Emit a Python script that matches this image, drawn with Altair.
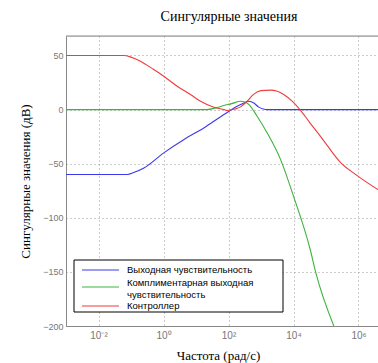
import altair as alt
import pandas as pd

# Data (frequency in rad/s, magnitude in dB)
series_names = ["Выходная чувствительность",
                "Комплиментарная выходная чувствительность",
                "Контроллер"]
legend_lines = [["Выходная чувствительность"],
                ["Комплиментарная выходная", "чувствительность"],
                ["Контроллер"]]
series_colors = ["#3a3aee", "#3cb43c", "#f03c3c"]

blue_freq = [1e-3, 0.076, 0.126, 0.25, 1.02, 4.17, 17.4, 72.4, 234, 427, 603, 832, 1259, 1549, 4e6]
blue_db = [-60, -60, -58, -54, -40, -27.8, -17, -4.6, 4.6, 7.7, 6, 2.5, 0.3, 0, 0]

green_freq = [1e-3, 21.9, 40, 71, 126, 234, 316, 427, 759, 1549, 3981, 1e4, 33113, 47863, 173780]
green_db = [0, 0, 1.5, 3.7, 5.5, 7.7, 7, 4.6, -6.2, -21.6, -46, -80, -130, -150, -200]

red_freq = [1e-3, 0.06, 0.1, 0.195, 0.5, 1.02, 2.63, 6.76, 13.8, 35.5, 72.4, 91.2, 158, 234, 355,
            589, 1000, 1950, 3162, 5012, 8913, 15849, 31623, 67608, 281838, 912011, 3981072]
red_db = [50, 50, 48.5, 44.7, 37, 30.8, 21.6, 13.9, 7.7, 2.2, 0, -0.8, 0.5, 2.5, 7,
          14, 17.5, 18, 17, 14, 8, 0, -12, -24.7, -49, -61, -74]

x_ticks = [1e-2, 1, 1e2, 1e4, 1e6]
y_ticks = [-200, -150, -100, -50, 0, 50]

rows = []
for name, fr, db in [(series_names[0], blue_freq, blue_db),
                     (series_names[1], green_freq, green_db),
                     (series_names[2], red_freq, red_db)]:
    for i, (f, d) in enumerate(zip(fr, db)):
        rows.append({"series": name, "freq": f, "db": d, "order": i})
df = pd.DataFrame(rows)

W, H = 312, 290

label_expr = ("datum.value == 0.01 ? '10⁻²' : datum.value == 1 ? '10⁰' : "
              "datum.value == 100 ? '10²' : datum.value == 10000 ? '10⁴' : '10⁶'")

lines = alt.Chart(df).mark_line(strokeWidth=1.1, interpolate="monotone", clip=True).encode(
    x=alt.X("freq:Q",
            scale=alt.Scale(type="log", domain=[1e-3, 10 ** 6.6], nice=False),
            axis=alt.Axis(values=x_ticks, labelExpr=label_expr, title="Частота (рад/с)",
                          grid=True, gridDash=[1, 3], gridColor="#999999",
                          ticks=False, labelPadding=4, labelFontSize=10,
                          labelColor="#777777", labelFont="Liberation Sans",
                          domainColor="#888888", titleFont="Liberation Serif",
                          titleFontSize=13, titleFontWeight="normal", titleColor="#000000",
                          titleX=152, titleY=29, titleBaseline="middle",
                          labelFlush=False, labelOverlap=False)),
    y=alt.Y("db:Q",
            scale=alt.Scale(domain=[-200, 68], nice=False, zero=False),
            axis=alt.Axis(values=y_ticks, title="Сингулярные значения (дВ)",
                          grid=True, gridDash=[1, 3], gridColor="#999999",
                          ticks=False, labelPadding=3, labelFontSize=9,
                          labelColor="#777777", labelFont="Liberation Sans",
                          domainColor="#888888", titleFont="Liberation Serif",
                          titleFontSize=13, titleFontWeight="normal", titleColor="#000000",
                          titleX=-41, titleY=145, titleBaseline="middle",
                          titleAngle=270, labelFlush=False)),
    color=alt.Color("series:N",
                    scale=alt.Scale(domain=series_names, range=series_colors),
                    legend=None),
    order="order:Q",
)

top_border = alt.Chart(pd.DataFrame({"v": [0]})).mark_rule(color="#888888", strokeWidth=1).encode(
    x=alt.value(0), x2=alt.value(W), y=alt.value(0)
)

# Manual legend box (MATLAB style)
one = pd.DataFrame({"v": [0]})
LX0, LX1, LY0, LY1 = 8, 217, 224, 276
legend_box = alt.Chart(one).mark_rect(fill="#ffffff", stroke="#000000", strokeWidth=1).encode(
    x=alt.value(LX0), x2=alt.value(LX1), y=alt.value(LY0), y2=alt.value(LY1)
)
sym_y = [234, 251, 270]
text_y = [[234], [247, 259], [270]]
legend_layers = [legend_box]
for i in range(3):
    legend_layers.append(
        alt.Chart(one).mark_rule(color=series_colors[i], strokeWidth=1.2).encode(
            x=alt.value(16), x2=alt.value(53), y=alt.value(sym_y[i])))
    for txt, ty in zip(legend_lines[i], text_y[i]):
        legend_layers.append(
            alt.Chart(one).mark_text(text=txt, align="left", baseline="middle",
                                     font="Liberation Sans", fontSize=9.5, color="#000000").encode(
                x=alt.value(61), y=alt.value(ty)))

chart = alt.layer(lines, top_border, *legend_layers).properties(
    width=W, height=H,
    title=alt.TitleParams("Сингулярные значения", font="Liberation Serif", fontSize=14,
                          fontWeight="normal", color="#000000", offset=12, dx=7),
    autosize=alt.AutoSizeParams(type="none"),
    padding={"left": 66, "top": 36, "right": 0, "bottom": 37},
).configure_view(stroke=None).configure(background="#ffffff")

chart.save("out.html", embed_options={"renderer": "svg", "actions": False})
